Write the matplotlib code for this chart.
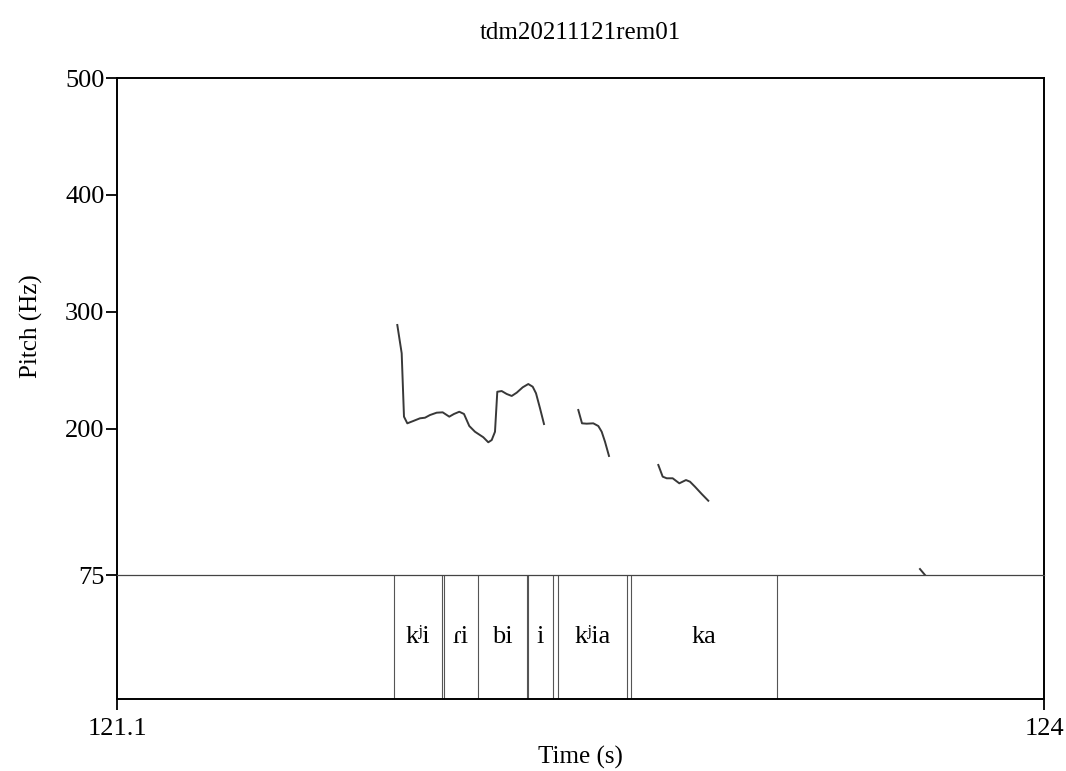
import matplotlib
matplotlib.use('Agg')
import matplotlib.pyplot as plt

plt.rcParams['font.family'] = ['Liberation Serif', 'DejaVu Serif']

# pitch contour (time s, Hz)
seg1_t = [121.9769, 121.9906, 121.9978, 122.0082, 122.0269, 122.0479, 122.0635, 122.0792,
          122.1001, 122.1189, 122.1395, 122.1542, 122.1708, 122.1855, 122.2021, 122.2199,
          122.2459, 122.2615, 122.2722, 122.2825, 122.2897, 122.3035, 122.3191, 122.3348,
          122.3504, 122.3692, 122.3867, 122.4005, 122.4108, 122.4233, 122.4358]
seg1_f = [288.8, 264.6, 210.4, 204.7, 206.7, 209.0, 209.5, 211.8,
          213.8, 214.1, 210.4, 212.7, 214.6, 212.7, 202.4, 197.5,
          192.8, 188.5, 190.4, 197.5, 231.7, 232.3, 229.8, 228.1,
          230.9, 235.5, 238.3, 236.0, 230.4, 217.6, 204.1]
seg2_t = [122.5431, 122.5547, 122.5694, 122.5900, 122.6057, 122.6163, 122.6266, 122.6391]
seg2_f = [216.1, 204.7, 204.4, 204.7, 202.4, 197.5, 189.0, 176.8]
seg3_t = [122.7934, 122.8071, 122.8197, 122.8384, 122.8591, 122.8800, 122.8925, 122.9081,
          122.9291, 122.9498]
seg3_f = [169.1, 159.1, 157.7, 157.7, 153.4, 156.2, 154.8, 150.5, 144.3, 138.5]
seg4_t = [123.612, 123.6277]
seg4_f = [80.1, 75.0]
segments = [(seg1_t, seg1_f), (seg2_t, seg2_f), (seg3_t, seg3_f), (seg4_t, seg4_f)]

# text tier
boundaries = [121.9665, 122.1167, 122.1239, 122.2284, 122.3817, 122.3867,
              122.4630, 122.4805, 122.6945, 122.7070, 123.1656]
labels = ['', 'kʲi', '', 'ɾi', 'bi', '', 'i', '', 'kʲia', '', 'ka', '']

t_min, t_max = 121.1, 124.0
f_min, f_max = 75, 500
yticks = [75, 200, 300, 400, 500]

W, H = 1066, 771
fig = plt.figure(figsize=(W / 100, H / 100), dpi=100)
left, right = 117 / W, 1044 / W
top, mid, bot = 1 - 78 / H, 1 - 575 / H, 1 - 699 / H

ax2 = fig.add_axes([left, bot, right - left, mid - bot])
ax = fig.add_axes([left, mid, right - left, top - mid], sharex=ax2)
ax.patch.set_visible(False)

for t, f in segments:
    ax.plot(t, f, color='#383838', lw=1.4)

ax.set_xlim(t_min, t_max)
ax.set_ylim(f_min, f_max)
ax.set_yticks(yticks)
ax.set_yticklabels([str(v) for v in yticks])
ax.tick_params(axis='y', direction='out', length=8, width=1.3, labelsize=19, pad=1)
ax.tick_params(axis='x', bottom=False, labelbottom=False)
for s in ['left', 'top', 'right']:
    ax.spines[s].set_linewidth(1.4)
ax.spines['bottom'].set_linewidth(0.9)
ax.spines['bottom'].set_color('#444444')
ax.set_ylabel('Pitch (Hz)', fontsize=18, labelpad=16)
ax.set_title('tdm20211121rem01', fontsize=18, pad=28)

# tier
ax2.set_ylim(0, 1)
ax2.set_yticks([])
ax2.spines['top'].set_visible(False)
for s in ['left', 'bottom', 'right']:
    ax2.spines[s].set_linewidth(1.4)
ax2.vlines(boundaries, 0, 1, color='#555555', lw=0.8)
edges = [t_min] + boundaries + [t_max]
for i, lab in enumerate(labels):
    if lab:
        ax2.text((edges[i] + edges[i + 1]) / 2, 0.5, lab, ha='center', va='center', fontsize=19)
ax2.set_xticks([t_min, t_max])
ax2.set_xticklabels(['121.1', '124'])
ax2.tick_params(axis='x', direction='out', length=8, width=1.3, labelsize=19, pad=6)
ax2.set_xlabel('Time (s)', fontsize=18, labelpad=4)

fig.savefig('out.png', dpi=100)
